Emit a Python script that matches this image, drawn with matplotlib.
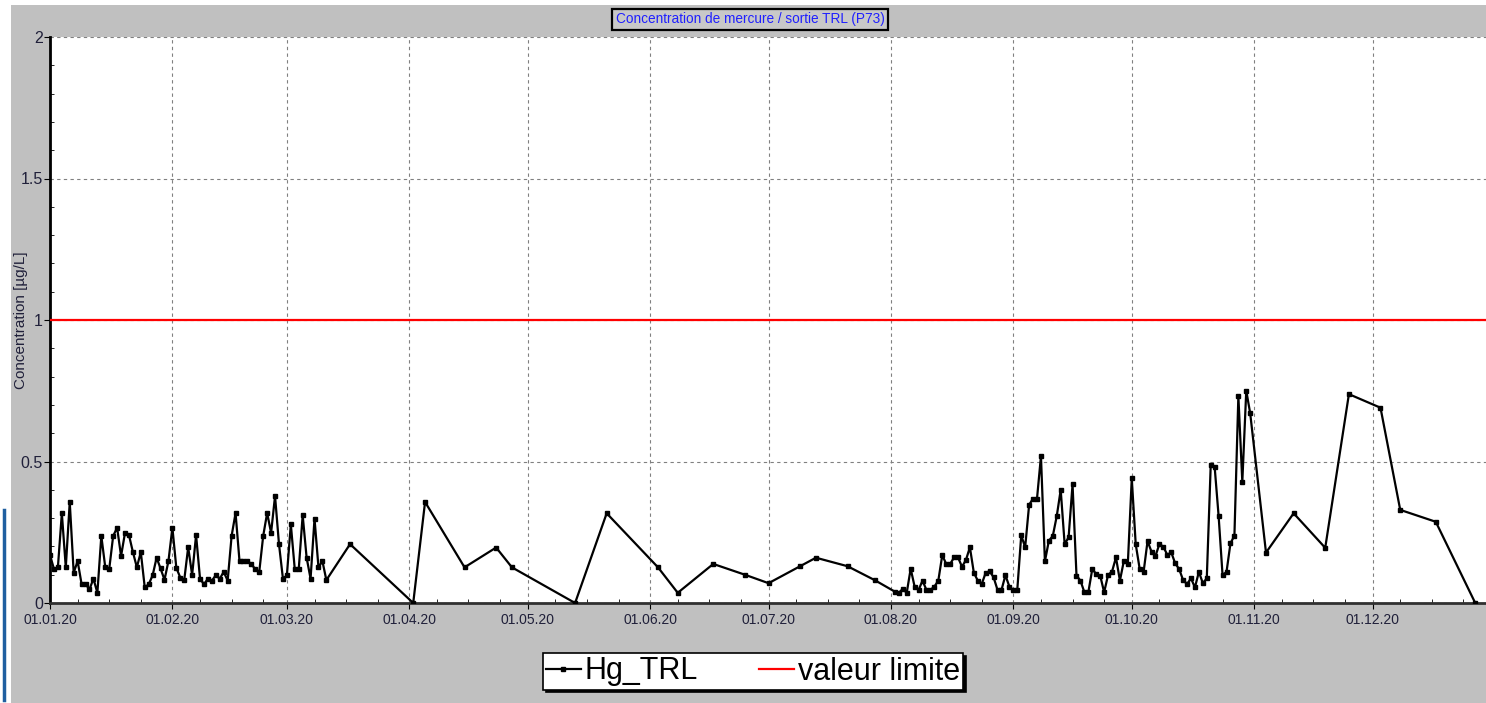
import pandas as pd
import matplotlib.pyplot as plt
import matplotlib.dates as mdates
from matplotlib.ticker import MultipleLocator
from matplotlib.patches import Rectangle
from matplotlib.lines import Line2D

plt.rcParams['font.family'] = ['Liberation Sans', 'DejaVu Sans']

# jours de mesure (jour de l'année 2020, 0 = 01.01.20) et concentrations Hg
jours = [
    0, 1, 2, 3, 4, 5, 6, 7, 8, 9, 10, 11, 12, 13, 14, 15, 16, 17, 18, 19,
    20, 21, 22, 23, 24, 25, 26, 27, 28, 29, 30, 31, 32, 33, 34, 35, 36, 37, 38, 39,
    40, 41, 42, 43, 44, 45, 46, 47, 48, 49, 50, 51, 52, 53, 54, 55, 56, 57, 58, 59,
    60, 61, 62, 63, 64, 65, 66, 67, 68, 69, 70,
    76, 92, 95, 105, 113, 117, 133, 141, 154, 159, 168, 176, 182, 190, 194, 202, 209, 214,
    215, 216, 217, 218, 219, 220, 221, 222, 223, 224, 225, 226, 227, 228, 229, 230,
    231, 232, 233, 234, 235, 236, 237, 238, 239, 240, 241, 242, 243, 244, 245, 246,
    247, 248, 249, 250, 251, 252, 253, 254, 255, 256, 257, 258, 259, 260, 261, 262,
    263, 264, 265, 266, 267, 268, 269, 270, 271, 272, 273, 274, 275, 276, 277, 278,
    279, 280, 281, 282, 283, 284, 285, 286, 287, 288, 289, 290, 291, 292, 293, 294,
    295, 296, 297, 298, 299, 300, 301, 302, 303, 304,
    308, 315, 323, 329, 337, 342, 351, 361,
]
hg_trl = [
    0.17, 0.12, 0.126, 0.317, 0.126, 0.357, 0.107, 0.148, 0.067, 0.067,
    0.048, 0.086, 0.036, 0.237, 0.126, 0.12, 0.237, 0.266, 0.166, 0.248,
    0.24, 0.18, 0.126, 0.18, 0.055, 0.066, 0.098, 0.16, 0.122, 0.082,
    0.148, 0.266, 0.124, 0.09, 0.081, 0.197, 0.099, 0.24, 0.086, 0.066,
    0.086, 0.079, 0.098, 0.086, 0.11, 0.079, 0.237, 0.318, 0.148, 0.148,
    0.148, 0.138, 0.119, 0.11, 0.237, 0.318, 0.248, 0.378, 0.208, 0.086,
    0.098, 0.278, 0.119, 0.119, 0.31, 0.16, 0.086, 0.298, 0.126, 0.148, 0.081,
    0.208, 0.0, 0.357, 0.126, 0.196, 0.126, 0.0, 0.317, 0.126, 0.036, 0.138,
    0.10, 0.07, 0.13, 0.16, 0.13, 0.08, 0.04,
    0.036, 0.05, 0.036, 0.121, 0.058, 0.046, 0.079, 0.046, 0.046, 0.058,
    0.079, 0.169, 0.138, 0.138, 0.161, 0.161, 0.128, 0.152, 0.197, 0.107,
    0.079, 0.067, 0.107, 0.112, 0.091, 0.046, 0.046, 0.098, 0.058, 0.046,
    0.046, 0.239, 0.197, 0.347, 0.369, 0.369, 0.519, 0.147, 0.22, 0.237,
    0.307, 0.4, 0.208, 0.232, 0.419, 0.097, 0.079, 0.038, 0.038, 0.12,
    0.102, 0.097, 0.038, 0.099, 0.111, 0.161, 0.079, 0.149, 0.138, 0.44,
    0.208, 0.121, 0.11, 0.219, 0.181, 0.166, 0.208, 0.199, 0.17, 0.179,
    0.14, 0.12, 0.081, 0.067, 0.087, 0.055, 0.11, 0.07, 0.087, 0.488,
    0.48, 0.307, 0.098, 0.11, 0.211, 0.238, 0.731, 0.428, 0.75, 0.67,
    0.178, 0.317, 0.195, 0.738, 0.69, 0.329, 0.287, 0.0,
]
valeur_limite = 1.0

debut = pd.Timestamp('2020-01-01')
fin = pd.Timestamp('2020-12-31 18:00')
dates = debut + pd.to_timedelta(jours, unit='D')

fig = plt.figure(figsize=(14.86, 7.03), dpi=100, facecolor='#c0c0c0')

# bandes blanches en haut et à gauche
fig.patches.append(Rectangle((0, 0), 11 / 1486, 1, transform=fig.transFigure,
                             facecolor='white', edgecolor='none', zorder=0))
fig.patches.append(Rectangle((0, 1 - 5 / 703), 1, 5 / 703, transform=fig.transFigure,
                             facecolor='white', edgecolor='none', zorder=0))
fig.lines.append(Line2D([3.5 / 1486, 3.5 / 1486], [3 / 703, 193 / 703],
                        transform=fig.transFigure, color='#1f5fa0', lw=2.5))

ax = fig.add_axes([50 / 1486, 100 / 703, 1444 / 1486, 566 / 703])
ax.set_facecolor('white')

ax.axhline(valeur_limite, color='#ff0000', lw=1.6, zorder=3, label='valeur limite')
ax.plot(dates, hg_trl, color='black', lw=1.6, marker='s', markersize=3.4,
        zorder=4, label='Hg_TRL')

ax.set_xlim(debut, fin)
ax.set_ylim(0, 2)

ax.xaxis.set_major_locator(mdates.MonthLocator())
ax.xaxis.set_major_formatter(mdates.DateFormatter('%d.%m.%y'))
ax.xaxis.set_minor_locator(mdates.DayLocator(bymonthday=[8, 16, 24]))
ax.yaxis.set_major_locator(MultipleLocator(0.5))
ax.yaxis.set_minor_locator(MultipleLocator(0.1))
ax.yaxis.set_major_formatter(plt.FuncFormatter(lambda v, p: f'{v:g}'))

ax.grid(True, which='major', color='#808080', linestyle=(0, (3, 3)), lw=0.8)
ax.tick_params(axis='x', which='major', length=4, labelsize=10, labelcolor='#20203a', pad=3)
ax.tick_params(axis='y', which='major', length=4, labelsize=11.5, labelcolor='#20203a', pad=1)
ax.tick_params(which='minor', length=3, direction='in')

for side in ('top', 'right'):
    ax.spines[side].set_visible(False)
ax.spines['left'].set_linewidth(2)
ax.spines['bottom'].set_linewidth(2)
ax.spines['bottom'].set_color('#303030')

ax.set_ylabel('Concentration [µg/L]', fontsize=11, color='#20203a')
ax.yaxis.set_label_coords(-22 / 1444, 0.5)

fig.text(750 / 1486, 1 - 19.5 / 703, 'Concentration de mercure / sortie TRL (P73)',
         ha='center', va='center', fontsize=9.8, color='#2020ff',
         bbox=dict(boxstyle='square,pad=0.25', facecolor='#c8c8c8',
                   edgecolor='black', lw=1.6))

handles, labels = ax.get_legend_handles_labels()
leg = fig.legend(handles[::-1], labels[::-1], loc='center', ncol=2,
                 bbox_to_anchor=(753 / 1486, 1 - 671.5 / 703), fontsize=22,
                 frameon=True, fancybox=False, edgecolor='black', facecolor='white',
                 framealpha=1, shadow={'color': 'black', 'alpha': 1},
                 handlelength=1.15, handletextpad=0.12, columnspacing=2.0,
                 borderpad=0.1, borderaxespad=0)
leg.get_frame().set_linewidth(1.2)

fig.savefig('out.png', dpi=100, facecolor=fig.get_facecolor())
